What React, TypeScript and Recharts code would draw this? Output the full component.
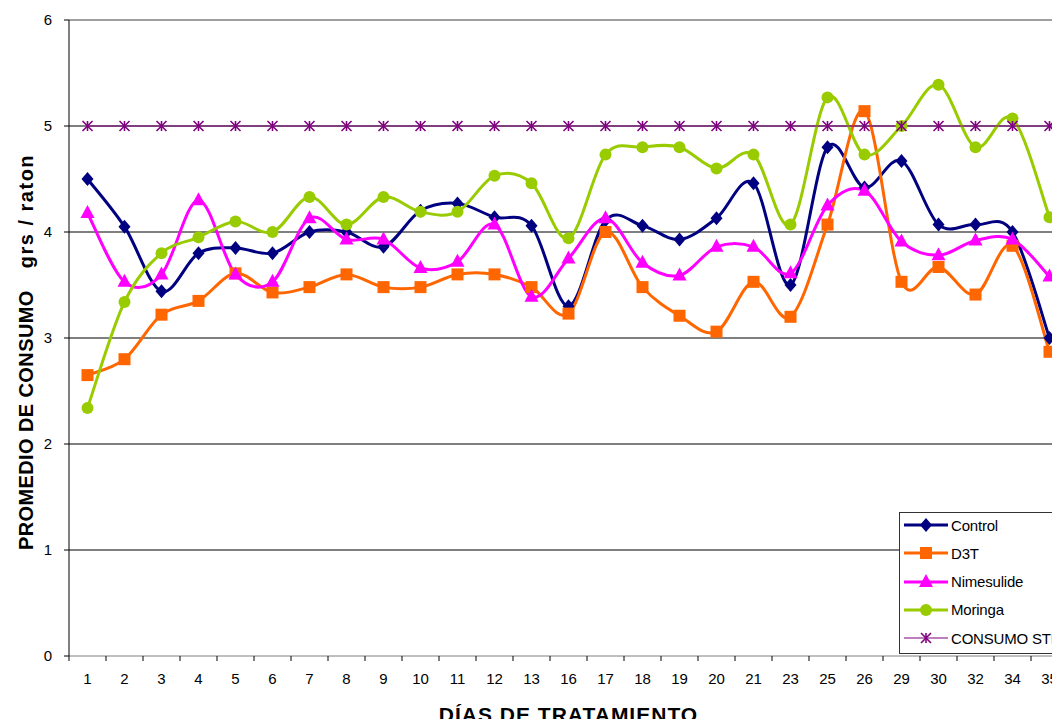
import React from "react";
import {
  LineChart,
  Line,
  XAxis,
  YAxis,
  CartesianGrid,
  ReferenceLine,
} from "recharts";

const days = [
  "1", "2", "3", "4", "5", "6", "7", "8", "9", "10", "11", "12", "13", "16",
  "17", "18", "19", "20", "21", "23", "25", "26", "29", "30", "32", "34", "35",
];
const control = [
  4.5, 4.05, 3.44, 3.8, 3.85, 3.8, 4.0, 4.0, 3.86, 4.2, 4.27, 4.14, 4.06, 3.3,
  4.11, 4.06, 3.93, 4.13, 4.46, 3.5, 4.8, 4.42, 4.67, 4.07, 4.07, 4.0, 3.0,
];
const d3t = [
  2.65, 2.8, 3.22, 3.35, 3.61, 3.43, 3.48, 3.6, 3.48, 3.48, 3.6, 3.6, 3.48, 3.23,
  4.0, 3.48, 3.21, 3.06, 3.53, 3.2, 4.07, 5.14, 3.53, 3.67, 3.41, 3.87, 2.87,
];
const nimesulide = [
  4.18, 3.53, 3.6, 4.3, 3.6, 3.53, 4.13, 3.93, 3.93, 3.66, 3.72, 4.07, 3.39, 3.75,
  4.13, 3.71, 3.59, 3.86, 3.86, 3.61, 4.25, 4.39, 3.91, 3.78, 3.92, 3.93, 3.58,
];
const moringa = [
  2.34, 3.34, 3.8, 3.95, 4.1, 4.0, 4.33, 4.07, 4.33, 4.19, 4.19, 4.53, 4.46, 3.94,
  4.73, 4.8, 4.8, 4.6, 4.73, 4.07, 5.27, 4.73, 5.0, 5.39, 4.8, 5.07, 4.14,
];
const consumoStd = days.map(() => 5);
const yTicks = [0, 1, 2, 3, 4, 5, 6];

const data = days.map((day, i) => ({
  day,
  control: control[i],
  d3t: d3t[i],
  nimesulide: nimesulide[i],
  moringa: moringa[i],
  std: consumoStd[i],
}));

const FONT = "'Liberation Sans', Arial, Helvetica, sans-serif";
const CHART_W = 1080;
const CHART_H = 727;
const PLOT_LEFT = 69;
const PLOT_RIGHT = 1068;
const PLOT_TOP = 20;
const PLOT_BOTTOM = 656;
const Y_AXIS_W = 50;
const X_AXIS_H = 30;
const STEP = (PLOT_RIGHT - PLOT_LEFT) / days.length;

// smoothed line like the spreadsheet one: catmull-rom through every point
const smoothCurve = (context: any) => {
  let pts: [number, number][] = [];
  return {
    areaStart() {},
    areaEnd() {},
    lineStart() {
      pts = [];
    },
    point(x: number, y: number) {
      pts.push([+x, +y]);
    },
    lineEnd() {
      const n = pts.length;
      if (!n) return;
      context.moveTo(pts[0][0], pts[0][1]);
      for (let i = 0; i < n - 1; i++) {
        const p0 = pts[Math.max(i - 1, 0)];
        const p1 = pts[i];
        const p2 = pts[i + 1];
        const p3 = pts[Math.min(i + 2, n - 1)];
        context.bezierCurveTo(
          p1[0] + (p2[0] - p0[0]) / 6,
          p1[1] + (p2[1] - p0[1]) / 6,
          p2[0] - (p3[0] - p1[0]) / 6,
          p2[1] - (p3[1] - p1[1]) / 6,
          p2[0],
          p2[1]
        );
      }
    },
  };
};

const Diamond = ({ cx, cy, color }: any) => (
  <polygon
    points={`${cx},${cy - 7} ${cx + 6},${cy} ${cx},${cy + 7} ${cx - 6},${cy}`}
    fill={color}
  />
);
const Square = ({ cx, cy, color }: any) => (
  <rect x={cx - 6} y={cy - 6} width={12} height={12} fill={color} />
);
const Triangle = ({ cx, cy, color }: any) => (
  <polygon
    points={`${cx},${cy - 8} ${cx + 7},${cy + 5} ${cx - 7},${cy + 5}`}
    fill={color}
  />
);
const Circle = ({ cx, cy, color }: any) => (
  <circle cx={cx} cy={cy} r={6} fill={color} />
);
const Star = ({ cx, cy, color }: any) => (
  <g stroke={color} strokeWidth={1.6}>
    <line x1={cx} y1={cy - 5} x2={cx} y2={cy + 5} />
    <line x1={cx - 5} y1={cy - 5} x2={cx + 5} y2={cy + 5} />
    <line x1={cx - 5} y1={cy + 5} x2={cx + 5} y2={cy - 5} />
  </g>
);

const series = [
  { key: "control", name: "Control", color: "#000080", width: 3, Marker: Diamond },
  { key: "d3t", name: "D3T", color: "#FF6600", width: 3, Marker: Square },
  { key: "nimesulide", name: "Nimesulide", color: "#FF00FF", width: 3, Marker: Triangle },
  { key: "moringa", name: "Moringa", color: "#99CC00", width: 3, Marker: Circle },
  { key: "std", name: "CONSUMO STD", color: "#800080", width: 1.2, Marker: Star },
];

// category label with the tick marks sitting on the category boundaries
const DayTick = (props: any) => {
  const { x, y, payload, index } = props;
  const last = index === days.length - 1;
  return (
    <g>
      <line x1={x - STEP / 2} y1={y} x2={x - STEP / 2} y2={y + 5} stroke="#000" />
      {last && (
        <line x1={x + STEP / 2} y1={y} x2={x + STEP / 2} y2={y + 5} stroke="#000" />
      )}
      <text
        x={x}
        y={y + 28}
        textAnchor="middle"
        fontSize={15}
        fontFamily={FONT}
        fill="#000"
      >
        {payload.value}
      </text>
    </g>
  );
};

const LegendBox = () => (
  <div
    style={{
      position: "absolute",
      left: 899,
      top: 512,
      width: 180,
      height: 142,
      border: "1px solid #333",
      background: "#fff",
      fontFamily: FONT,
      fontSize: 15,
      letterSpacing: -0.2,
      color: "#000",
      boxSizing: "border-box",
    }}
  >
    {series.map((s, i) => (
      <div
        key={s.key}
        style={{
          position: "absolute",
          left: 3,
          top: 2 + i * 28.3,
          height: 20,
          display: "flex",
          alignItems: "center",
          whiteSpace: "nowrap",
        }}
      >
        <svg width={46} height={20} style={{ marginRight: 2 }}>
          <line x1={1} y1={10} x2={45} y2={10} stroke={s.color} strokeWidth={s.width} />
          <s.Marker cx={23} cy={10} color={s.color} />
        </svg>
        <span>{s.name}</span>
      </div>
    ))}
  </div>
);

export default function App() {
  return (
    <div
      style={{
        position: "relative",
        margin: -8,
        width: 1060,
        height: CHART_H,
        overflow: "hidden",
        background: "#fff",
      }}
    >
      <LineChart
        width={CHART_W}
        height={CHART_H}
        data={data}
        margin={{
          top: PLOT_TOP,
          left: PLOT_LEFT - Y_AXIS_W,
          right: CHART_W - PLOT_RIGHT,
          bottom: CHART_H - PLOT_BOTTOM - X_AXIS_H,
        }}
      >
        <CartesianGrid
          vertical={false}
          horizontalValues={[1, 2, 3, 4, 5]}
          stroke="#000"
          strokeWidth={1}
        />
        <ReferenceLine y={6} stroke="#808080" strokeWidth={1.5} />
        <XAxis
          dataKey="day"
          height={X_AXIS_H}
          stroke="#808080"
          tickLine={false}
          tickSize={0}
          tickMargin={0}
          tick={<DayTick />}
          interval={0}
          padding={{ left: STEP / 2, right: STEP / 2 }}
        />
        <YAxis
          width={Y_AXIS_W}
          domain={[0, 6]}
          ticks={yTicks}
          stroke="#000"
          tickSize={5}
          tickMargin={12}
          tick={{ fontSize: 15, fontFamily: FONT, fill: "#000" }}
          allowDecimals={false}
        />
        {series.map((s) => (
          <Line
            key={s.key}
            dataKey={s.key}
            name={s.name}
            type={smoothCurve as any}
            stroke={s.color}
            strokeWidth={s.width}
            dot={(p: any) => (
              <s.Marker key={`${s.key}-${p.index}`} cx={p.cx} cy={p.cy} color={s.color} />
            )}
            activeDot={false}
            isAnimationActive={false}
          />
        ))}
      </LineChart>
      <LegendBox />
      <div
        style={{
          position: "absolute",
          left: PLOT_LEFT,
          width: PLOT_RIGHT - PLOT_LEFT,
          top: 703,
          textAlign: "center",
          fontFamily: FONT,
          fontWeight: "bold",
          fontSize: 21,
          letterSpacing: 1,
          color: "#000",
        }}
      >
        DÍAS DE TRATAMIENTO
      </div>
      <div
        style={{
          position: "absolute",
          left: 26,
          top: 352,
          transform: "translate(-50%, -50%) rotate(-90deg)",
          whiteSpace: "nowrap",
          display: "flex",
          alignItems: "baseline",
          fontFamily: FONT,
          fontWeight: "bold",
          fontSize: 20,
          color: "#000",
        }}
      >
        <span style={{ letterSpacing: 0.4 }}>PROMEDIO DE CONSUMO</span>
        <span style={{ marginLeft: 22, letterSpacing: 1.5 }}>grs / raton</span>
      </div>
    </div>
  );
}
